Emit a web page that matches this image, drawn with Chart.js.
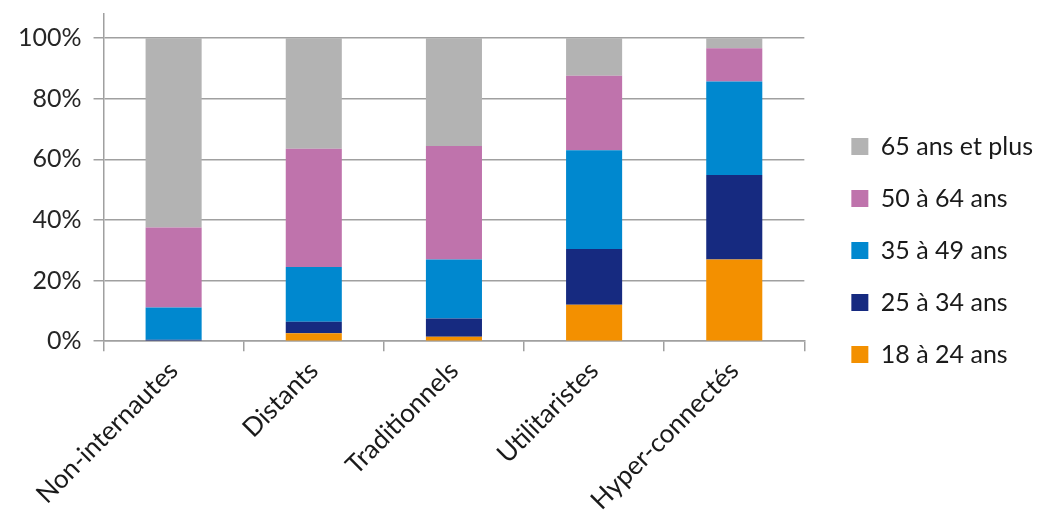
<!DOCTYPE html>
<html>
<head>
<meta charset="utf-8">
<script src="https://cdn.jsdelivr.net/npm/chart.js@4"></script>
<style>
  html, body { margin: 0; padding: 0; background: #fff; }
  #wrap { width: 1039px; height: 518px; }
</style>
</head>
<body>
<div id="wrap"><canvas id="ageChart" width="1039" height="518"></canvas></div>
<script>
// categories and series (percent of each profile)
const categories = ["Non-internautes", "Distants", "Traditionnels", "Utilitaristes", "Hyper-connectés"];
const age18to24 = [0.2, 2.6, 1.5, 12.0, 27.0];
const age25to34 = [0.3, 3.8, 6.0, 18.4, 27.9];
const age35to49 = [10.6, 18.1, 19.5, 32.6, 30.8];
const age50to64 = [26.4, 39.0, 37.4, 24.6, 11.0];
const age65plus = [62.5, 36.5, 35.6, 12.4, 3.3];
const yTicks = [0, 20, 40, 60, 80, 100];

// nudge the legend block up a bit (it sits above the middle in the original)
const legendShift = {
    id: "legendShift",
    afterLayout(chart) {
        if (chart.legend) chart.legend.bottom -= 33;
    }
};

document.addEventListener("DOMContentLoaded", function () {
    const ctx = document.getElementById("ageChart").getContext("2d");
    Chart.defaults.font.family = "Lato, 'Open Sans', sans-serif";
    Chart.defaults.color = "#262626";

    const mk = (label, data, color) => ({
        label: label,
        data: data,
        backgroundColor: color,
        borderWidth: 0,
        barPercentage: 0.4,
        categoryPercentage: 1.0
    });

    new Chart(ctx, {
        type: "bar",
        data: {
            labels: categories,
            datasets: [
                mk("18 à 24 ans", age18to24, "#f39000"),
                mk("25 à 34 ans", age25to34, "#162a80"),
                mk("35 à 49 ans", age35to49, "#0088cf"),
                mk("50 à 64 ans", age50to64, "#bf73ac"),
                mk("65 ans et plus", age65plus, "#b3b3b3")
            ]
        },
        plugins: [legendShift],
        options: {
            responsive: false,
            animation: false,
            layout: { padding: { left: 6, right: -4, top: 14, bottom: -2 } },
            plugins: {
                tooltip: { enabled: false },
                legend: {
                    position: "right",
                    reverse: true,
                    maxWidth: 260,
                    labels: {
                        boxWidth: 17,
                        boxHeight: 17,
                        padding: 27,
                        font: { size: 25 },
                        color: "#1a1a1a"
                    }
                }
            },
            scales: {
                x: {
                    stacked: true,
                    grid: {
                        offset: true,
                        drawOnChartArea: false,
                        tickLength: 10,
                        color: "#a0a0a0",
                        lineWidth: 1.5
                    },
                    border: { color: "#a0a0a0", width: 1.5 },
                    ticks: {
                        maxRotation: 45,
                        minRotation: 45,
                        font: { size: 26 },
                        color: "#1a1a1a",
                        padding: 4
                    }
                },
                y: {
                    stacked: true,
                    min: 0,
                    max: 108,
                    afterBuildTicks: function (axis) {
                        axis.ticks = yTicks.map(v => ({ value: v }));
                    },
                    afterFit: function (axis) {
                        axis.paddingTop = 0;
                    },
                    grid: {
                        tickLength: 10,
                        color: "#a0a0a0",
                        lineWidth: 1.5
                    },
                    border: { color: "#a0a0a0", width: 1.5 },
                    ticks: {
                        font: { size: 25 },
                        color: "#262626",
                        padding: 12,
                        callback: v => v + "%"
                    }
                },
                // empty spacer between the plot and the legend
                gap: {
                    position: "right",
                    display: true,
                    grid: { display: false },
                    border: { display: false },
                    ticks: { display: false },
                    afterFit: function (axis) {
                        axis.width = 20;
                    }
                }
            }
        }
    });
});
</script>
</body>
</html>
